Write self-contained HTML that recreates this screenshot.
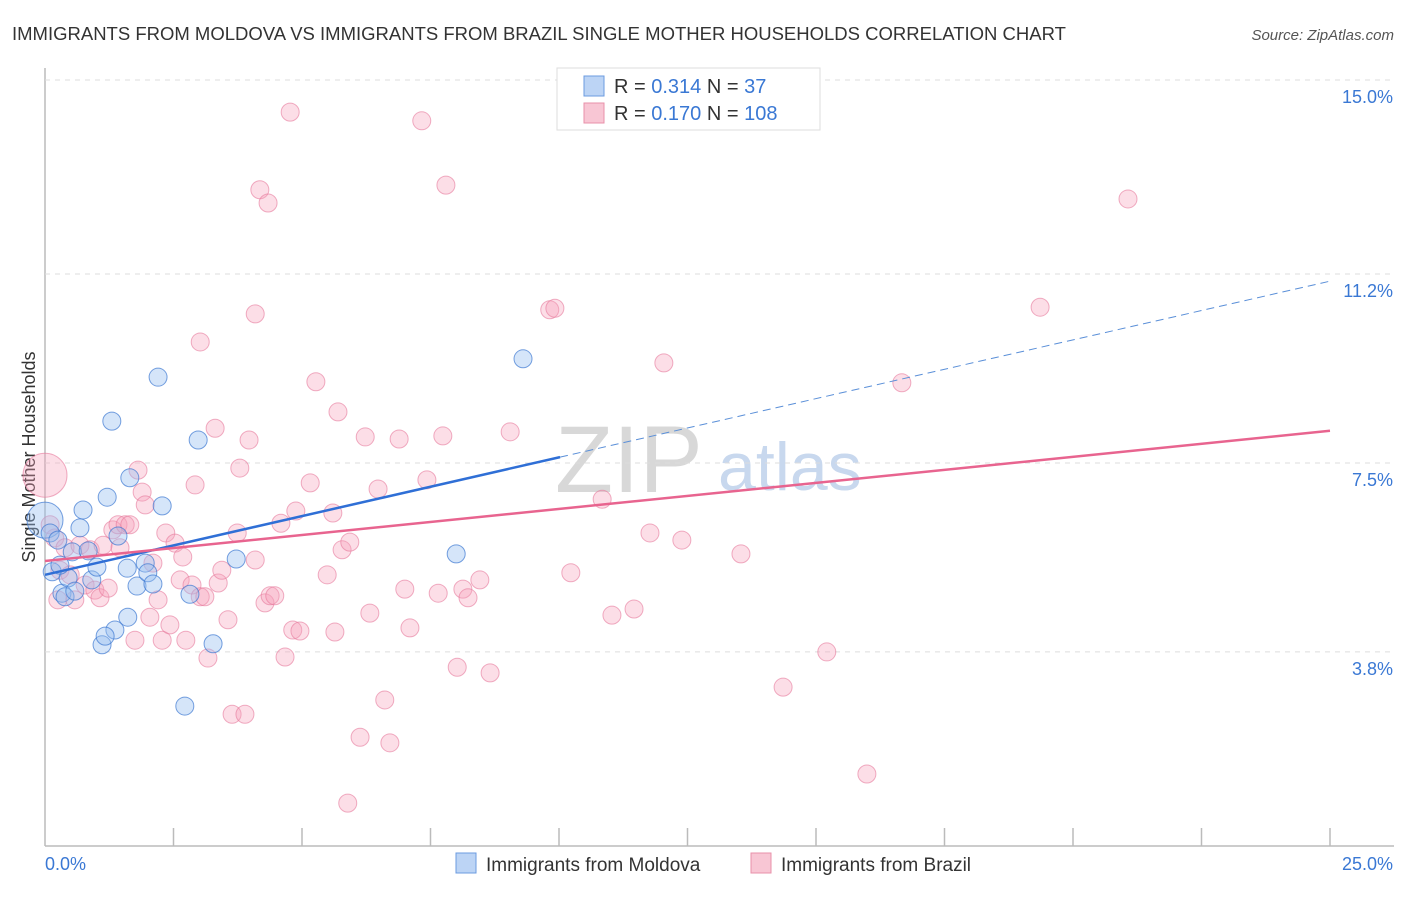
<!DOCTYPE html>
<html><head><meta charset="utf-8"><style>
body{margin:0;background:#fff;font-family:"Liberation Sans",sans-serif}
svg text{font-family:"Liberation Sans",sans-serif}
</style></head><body>
<svg id="c" width="1406" height="892">
<text x="12" y="40" font-size="18.5" fill="#333">IMMIGRANTS FROM MOLDOVA VS IMMIGRANTS FROM BRAZIL SINGLE MOTHER HOUSEHOLDS CORRELATION CHART</text>
<text x="1394" y="40" font-size="15" fill="#555" font-style="italic" text-anchor="end">Source: ZipAtlas.com</text>
<text x="35" y="457" font-size="18" fill="#333" text-anchor="middle" transform="rotate(-90 35 457)">Single Mother Households</text>
<text x="555" y="492" font-size="95" fill="#d8d8d8" font-family="Liberation Serif">ZIP</text>
<text x="718" y="490" font-size="68" fill="#c8d8ee">atlas</text>
<g id="grid"></g><g id="pts"></g><g id="trend"></g>
<g>
<rect x="557" y="68" width="263" height="62" fill="#fff" stroke="#ddd"/>
<rect x="584" y="76" width="20" height="20" fill="#bcd4f5" stroke="#6b9be0"/>
<text x="614" y="93" font-size="20" fill="#333">R = <tspan fill="#3a78d4">0.314</tspan>   N =  <tspan fill="#3a78d4">  37</tspan></text>
<rect x="584" y="103" width="20" height="20" fill="#f8c6d4" stroke="#e890aa"/>
<text x="614" y="120" font-size="20" fill="#333">R = <tspan fill="#3a78d4">0.170</tspan>   N = <tspan fill="#3a78d4">108</tspan></text>
</g>
<g>
<rect x="456" y="853" width="20" height="20" fill="#bcd4f5" stroke="#6b9be0"/>
<text x="486" y="871" font-size="19" fill="#333">Immigrants from Moldova</text>
<rect x="751" y="853" width="20" height="20" fill="#f8c6d4" stroke="#e890aa"/>
<text x="781" y="871" font-size="19" fill="#333">Immigrants from Brazil</text>
</g>
</svg>
<script>
const yTicks=[3.8,7.5,11.2,15.0];
const yTickLabels=["3.8%","7.5%","11.2%","15.0%"];
const xTickLabels=["0.0%","25.0%"];
const blueX=[0.0,0.10,0.14,0.33,0.39,0.45,0.53,0.58,0.68,0.74,0.84,0.91,1.01,1.21,1.30,1.42,1.36,1.11,1.17,1.61,1.60,1.65,1.79,1.95,2.00,2.10,2.20,2.28,2.72,2.82,2.98,3.27,3.72,8.00,9.30,0.29,0.25];
const blueY=[6.38,6.13,5.37,4.95,4.88,5.25,5.76,4.99,6.23,6.58,5.78,5.21,5.46,6.83,8.32,6.07,4.23,3.94,4.11,4.48,5.44,7.21,5.09,5.54,5.35,5.13,9.18,6.66,2.74,4.93,7.95,3.96,5.62,5.72,9.54,5.50,5.99];
const pinkX=[0,0.10,0.19,0.25,0.29,0.39,0.49,0.58,0.68,0.78,0.88,0.97,1.07,1.13,1.23,1.32,1.42,1.46,1.56,1.65,1.75,1.81,1.89,1.95,2.04,2.10,2.20,2.28,2.35,2.43,2.53,2.63,2.68,2.74,2.86,2.92,3.02,3.02,3.11,3.17,3.31,3.37,3.44,3.56,3.64,3.74,3.79,3.89,3.97,4.09,4.09,4.18,4.28,4.34,4.38,4.47,4.59,4.67,4.77,4.82,4.88,4.96,5.16,5.27,5.49,5.60,5.64,5.70,5.78,5.89,5.93,6.13,6.23,6.32,6.48,6.61,6.71,6.89,7.00,7.10,7.33,7.43,7.65,7.74,7.80,8.02,8.13,8.23,8.46,8.66,9.05,9.82,9.92,10.23,10.84,11.03,11.46,11.77,12.04,12.39,13.54,14.36,15.21,15.99,16.67,19.36,21.07];
const pinkY=[7.26,6.29,6.03,4.82,5.40,5.84,5.31,4.82,5.89,5.11,5.80,5.01,4.86,5.89,5.05,6.19,6.29,5.84,6.29,6.29,4.03,7.36,6.93,6.68,4.48,5.54,4.82,4.03,6.13,4.33,5.93,5.21,5.66,4.03,5.11,7.07,9.87,4.88,4.88,3.68,8.18,5.15,5.40,4.43,2.58,6.13,7.40,2.58,7.95,5.60,10.42,12.85,4.76,12.59,4.90,4.90,6.32,3.70,14.37,4.23,6.56,4.21,7.11,9.09,5.31,6.52,4.19,8.50,5.80,0.84,5.95,2.13,8.01,4.56,6.99,2.86,2.02,7.97,5.03,4.27,14.20,7.17,4.95,8.03,12.94,3.50,5.03,4.86,5.21,3.39,8.11,10.50,10.53,5.35,6.79,4.52,4.64,6.13,9.46,5.99,5.72,3.11,3.80,1.41,9.07,10.55,12.67];
const blueTrend=[5.31,0.23];
const pinkTrend=[5.58,0.102];
const X=v=>45+v*51.4, Y=v=>846-v*51.07;
const NS="http://www.w3.org/2000/svg";
function mk(t,a,p){const e=document.createElementNS(NS,t);for(const k in a)e.setAttribute(k,a[k]);p.appendChild(e);return e;}
const g=document.getElementById('grid');
const ax=mk('line',{x1:45,y1:68,x2:45,y2:846,stroke:'#bbb','stroke-width':1.5},g);


const bx=mk('line',{x1:45,y1:846,x2:1394,y2:846,stroke:'#bbb','stroke-width':1.5},g);


for(let i=1;i<=10;i++){const t=mk('line',{x1:45+i*128.5,y1:828,x2:45+i*128.5,y2:846,stroke:'#bbb','stroke-width':1.5},g);

}
yTicks.forEach((v,i)=>{const l=mk('line',{x1:45,y1:Y(v),x2:1394,y2:Y(v),stroke:'#ddd','stroke-dasharray':'5,5'},g);


const t=mk('text',{x:1393,y:Y(v)+23,'font-size':18,fill:'#3a78d4','text-anchor':'end'},g);t.textContent=yTickLabels[i];

});
xTickLabels.forEach((s,i)=>{const t=mk('text',{x:i?1393:45,y:870,'font-size':18,fill:'#3a78d4','text-anchor':i?'end':'start'},g);t.textContent=s;

});
const p=document.getElementById('pts');
pinkX.forEach((x,i)=>{const c=mk('circle',{cx:X(x),cy:Y(pinkY[i]),r:i==0?22:9,fill:'rgba(245,160,185,0.35)',stroke:'rgba(230,120,155,0.6)'},p);

});
blueX.forEach((x,i)=>{const c=mk('circle',{cx:X(x),cy:Y(blueY[i]),r:i==0?18:9,fill:'rgba(150,190,240,0.4)',stroke:'rgba(60,120,210,0.7)'},p);

});
const tr=document.getElementById('trend');
const bmax=Math.max(...blueX)+0.72;
const b1=mk('line',{x1:X(0),y1:Y(blueTrend[0]),x2:X(bmax),y2:Y(blueTrend[0]+blueTrend[1]*bmax),stroke:'#2f6fd6','stroke-width':2.5},tr);


const b2=mk('line',{x1:X(bmax),y1:Y(blueTrend[0]+blueTrend[1]*bmax),x2:X(25),y2:Y(blueTrend[0]+blueTrend[1]*25),stroke:'#5a8fd8','stroke-width':1,'stroke-dasharray':'8,5'},tr);


const p1=mk('line',{x1:X(0),y1:Y(pinkTrend[0]),x2:X(25),y2:Y(pinkTrend[0]+pinkTrend[1]*25),stroke:'#e8648f','stroke-width':2.5},tr);


</script>
</body></html>
